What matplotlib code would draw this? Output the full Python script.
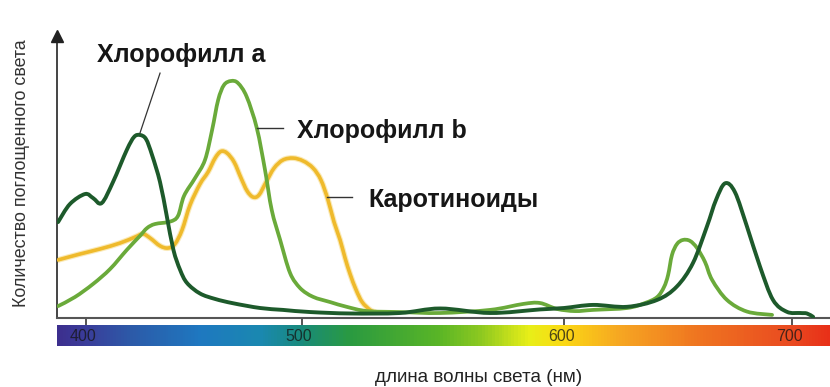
import numpy as np
import matplotlib
matplotlib.use("Agg")
import matplotlib.pyplot as plt
from matplotlib.colors import LinearSegmentedColormap
from matplotlib.path import Path
from matplotlib.patches import PathPatch
from matplotlib.transforms import blended_transform_factory, ScaledTranslation

plt.rcParams['font.family'] = ['Liberation Sans', 'DejaVu Sans']

# Absorption spectra (wavelength in nm, relative absorption)
chl_a_nm = [387.2, 392.7, 399.7, 403.4, 407.4, 412.6, 419.0, 422.4, 425.1, 427.9,
            430.7, 434.4, 437.5, 440.6, 443.7, 446.9, 452.9, 459.9, 468.2, 480.7,
            491.3, 503.2, 518.4, 537.4, 552.7, 571.7, 590.7, 599.9, 612.6, 627.5,
            640.7, 649.3, 656.4, 662.5, 666.5, 670.5, 674.8, 680.1, 685.8, 691.5,
            697.6, 703.4, 706.4, 709.1]
chl_a_abs = [40.3, 47.9, 52.1, 50.4, 48.3, 57.1, 70.6, 76.1, 76.9, 75.2,
             68.5, 57.1, 42.9, 28.6, 20.2, 14.7, 10.3, 8.0, 6.2, 4.2,
             3.4, 2.5, 1.9, 2.1, 4.0, 2.1, 3.6, 4.2, 5.5, 4.7,
             7.6, 13.2, 23.1, 38.4, 49.6, 56.6, 52.9, 38.4, 21.6, 7.6,
             2.6, 2.1, 1.9, 0.5]

chl_b_nm = [387.2, 395.0, 403.4, 411.3, 419.0, 425.1, 428.4, 432.1, 439.0, 442.7,
            445.5, 450.6, 455.2, 458.5, 461.3, 464.0, 467.3, 470.5, 474.5, 479.2,
            483.0, 486.1, 490.0, 494.6, 499.2, 504.3, 510.8, 517.1, 524.9, 537.4,
            552.7, 571.7, 584.3, 590.7, 597.2, 604.7, 612.6, 627.5, 635.4, 640.7,
            643.7, 645.5, 647.2, 649.4, 652.0, 655.1, 658.2, 661.7, 664.8, 671.3,
            680.1, 691.1]
chl_b_abs = [5.0, 8.8, 14.3, 20.6, 28.6, 34.5, 37.8, 39.5, 40.5, 42.9,
             51.3, 58.8, 66.4, 79.0, 91.6, 97.9, 99.6, 98.7, 93.0, 79.8,
             62.2, 45.4, 32.8, 18.9, 12.6, 8.9, 6.7, 4.7, 2.9, 2.5,
             2.1, 3.4, 5.9, 6.3, 3.8, 2.9, 3.4, 4.2, 6.3, 8.8,
             13.0, 18.1, 26.5, 31.1, 32.8, 32.4, 29.4, 23.5, 16.0, 7.6,
             2.7, 1.3]

car_nm = [387.2, 397.4, 406.6, 415.9, 422.8, 426.5, 429.8, 434.4, 438.1, 441.3,
          444.6, 448.3, 452.9, 456.6, 459.9, 462.6, 465.4, 468.7, 471.9, 474.7,
          477.5, 480.2, 483.5, 487.2, 491.3, 496.0, 500.5, 504.3, 507.3, 510.0,
          512.3, 514.6, 516.5, 518.4, 520.7, 523.0, 526.0, 527.9]
car_abs = [24.4, 26.9, 29.0, 31.5, 34.0, 35.3, 33.6, 30.3, 29.4, 31.1,
           37.0, 47.5, 56.3, 61.3, 67.2, 70.0, 69.3, 65.5, 58.8, 53.4,
           50.8, 51.7, 57.1, 63.0, 66.4, 67.2, 66.0, 63.0, 58.0, 49.6,
           40.3, 32.8, 25.2, 18.5, 11.8, 6.7, 3.4, 2.5]

tick_nm = [400, 500, 600, 700]
tick_labels = ['400', '500', '600', '700']

# Spectrum strip colour stops (nm, colour)
spec_nm = [386.7, 400, 420.5, 453, 480.7, 500, 518.4, 552.7, 567.9, 587,
           600, 624.4, 659.5, 700, 716.5]
spec_col = ['#3c2f8e', '#3a3d9a', '#2c5aa8', '#1e78c0', '#1a88b0', '#188a7a',
            '#2a9a40', '#5ab526', '#8cc820', '#e8ee18', '#fbd814', '#f6a622',
            '#ef7420', '#e94a20', '#e83018']

# The wavelength axis of the drawing is not evenly spaced between the marks
knot_nm = np.array([300, 400, 500, 600, 700, 800], dtype=float)
knot_pos = np.array([85.7 - 216.0, 85.7, 301.7, 564.3, 792.3, 792.3 + 228.0])


def fwd(x):
    return np.interp(x, knot_nm, knot_pos)


def inv(p):
    return np.interp(p, knot_pos, knot_nm)


def smooth_path(xs, ys):
    """Cubic Bezier path through every (x, y) point with Catmull-Rom tangents."""
    p = np.column_stack([xs, ys]).astype(float)
    n = len(p)
    verts = [p[0]]
    codes = [Path.MOVETO]
    for i in range(n - 1):
        p0 = p[i - 1] if i > 0 else p[i]
        p3 = p[i + 2] if i + 2 < n else p[i + 1]
        c1 = p[i] + (p[i + 1] - p0) / 6.0
        c2 = p[i + 1] - (p3 - p[i]) / 6.0
        verts += [c1, c2, p[i + 1]]
        codes += [Path.CURVE4] * 3
    return Path(np.array(verts), codes)


def draw_curve(ax, xs, ys, **kw):
    patch = PathPatch(smooth_path(xs, ys), facecolor='none', capstyle='round',
                      joinstyle='round', **kw)
    ax.add_patch(patch)


W, H = 830, 387
fig = plt.figure(figsize=(W / 100, H / 100), dpi=100)
fig.patch.set_facecolor('white')

x_lo, x_hi = 386.7, 716.5

ax = fig.add_axes([57 / W, (H - 318) / H, (W - 57) / W, (318 - 36) / H])
ax.set_xscale('function', functions=(fwd, inv))
ax.set_xlim(x_lo, x_hi)
ax.set_ylim(0, 118.5)

draw_curve(ax, car_nm, car_abs, edgecolor='#f7dc8a', lw=4.2, alpha=0.6, zorder=2)
draw_curve(ax, car_nm, car_abs, edgecolor='#efba2c', lw=2.6, zorder=3)
draw_curve(ax, chl_b_nm, chl_b_abs, edgecolor='#6aaa3a', lw=2.7, zorder=4)
draw_curve(ax, chl_a_nm, chl_a_abs, edgecolor='#1d5a2b', lw=2.8, zorder=5)

for s in ['top', 'right']:
    ax.spines[s].set_visible(False)
ax.spines['left'].set_color('#444444')
ax.spines['left'].set_linewidth(1.4)
ax.spines['bottom'].set_color('#555555')
ax.spines['bottom'].set_linewidth(1.5)
ax.set_yticks([])
ax.set_xticks(tick_nm)
ax.set_xticklabels([])
ax.tick_params(axis='x', direction='out', length=5, width=1.4, color='#555555')
ax.plot([0], [1], marker='^', markersize=8, color='#222222',
        transform=ax.transAxes, clip_on=False, zorder=6)

# Curve labels with leader lines
lab_kw = dict(fontsize=18, fontweight='bold', color='#161616', va='center', ha='left')
ax.text(405.2, 110.5, 'Хлорофилл а', **lab_kw)
ax.plot([434.4, 425.1], [102.9, 77.7], color='#333333', lw=0.9, zorder=6)
ax.text(497.9, 78.6, 'Хлорофилл b', **lab_kw)
ax.plot([479.2, 491.5], [79.8, 79.8], color='#333333', lw=1.0, zorder=6)
ax.text(525.4, 49.6, 'Каротиноиды', **lab_kw)
ax.plot([509.5, 519.0], [51.0, 51.0], color='#333333', lw=1.0, zorder=6)

# Spectrum strip with wavelength marks
bx = fig.add_axes([57 / W, (H - 346) / H, (W - 57) / W, 21 / H])
bx.set_xscale('function', functions=(fwd, inv))
bx.set_xlim(x_lo, x_hi)
bx.set_ylim(0, 1)
stops = [(v - x_lo) / (x_hi - x_lo) for v in spec_nm]
stops[0], stops[-1] = 0.0, 1.0
cmap = LinearSegmentedColormap.from_list('spectrum', list(zip(stops, spec_col)))
xg = np.linspace(x_lo, x_hi, 500)
xc = 0.5 * (xg[:-1] + xg[1:])
bx.pcolormesh(xg, [0, 1], xc[np.newaxis, :], cmap=cmap, vmin=x_lo, vmax=x_hi,
              shading='flat')
bx.axis('off')
tr = blended_transform_factory(bx.transData, bx.transAxes) + \
    ScaledTranslation(-3 / 100, 0, fig.dpi_scale_trans)
for t, lab in zip(tick_nm, tick_labels):
    bx.text(t, 0.45, lab, transform=tr, ha='center', va='center',
            fontsize=11.5, color='#151515', alpha=0.75)

fig.text(478.5 / W, 1 - 378 / H, 'длина волны света (нм)', ha='center', va='center',
         fontsize=13.6, color='#222222')
fig.text(21.5 / W, 1 - 173.5 / H, 'Количество поглощенного света', rotation=90,
         ha='center', va='center', fontsize=12.9, color='#333333')

fig.savefig('out.png', dpi=100, facecolor='white')
